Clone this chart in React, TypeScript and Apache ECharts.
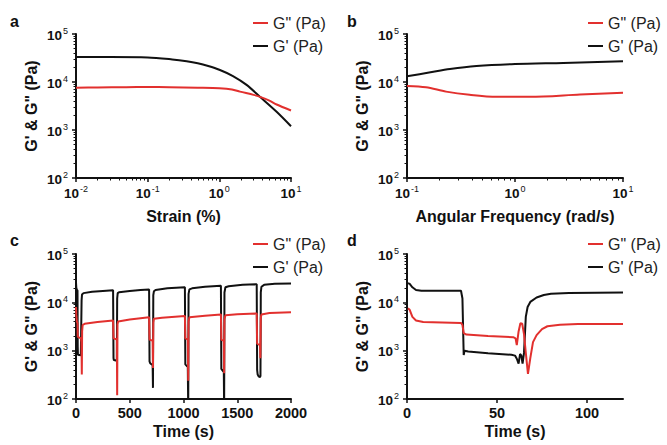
import React, { useEffect, useRef } from "react";
import * as echarts from "echarts";

const RED = "#e2302e";
const BLACK = "#111111";
const FONT = "'Liberation Sans', Arial, Helvetica, sans-serif";
const NAME_GPP = 'G" (Pa)';
const NAME_GP = "G' (Pa)";
const Y_TITLE = "G' & G\" (Pa)";

// ---- Panel a: strain sweep ----
const A_GPP: number[][] = [
  [0.01, 7600], [0.02, 7700], [0.05, 7800], [0.1, 7850], [0.2, 7800], [0.5, 7600],
  [1, 7400], [1.5, 7000], [1.94, 6300], [3, 5400], [3.7, 4900], [5, 4100],
  [6.3, 3400], [10, 2550],
];
const A_GP: number[][] = [
  [0.01, 33000], [0.03, 33000], [0.1, 32500], [0.22, 29500], [0.35, 27000],
  [0.5, 24500], [0.7, 21500], [1, 18000], [1.55, 13300], [2.4, 8700],
  [3.7, 4900], [6.3, 2400], [10, 1200],
];

// ---- Panel b: frequency sweep ----
const B_GPP: number[][] = [
  [0.1, 8300], [0.15, 7800], [0.23, 6300], [0.38, 5400], [0.68, 4900],
  [1.38, 4900], [4, 5500], [10, 6000],
];
const B_GP: number[][] = [
  [0.1, 13200], [0.16, 15700], [0.25, 18600], [0.44, 21500], [1, 23700],
  [2.8, 25000], [10, 27000],
];

// ---- Panel c: alternating strain recovery ----
const C_GP: number[][] = [
  [0, 26000], [3, 20000], [8, 18000], [14, 17500], [16, 1200], [18, 820], [45, 800], [49, 780],
  [52, 11000], [56, 14500], [70, 15500], [150, 16500], [250, 17200], [345, 17800],
  [347, 17800], [349, 700], [352, 640], [380, 620], [383, 12000], [388, 15500], [400, 16200],
  [500, 17200], [600, 18000], [680, 18500],
  [682, 18500], [684, 600], [690, 550], [713, 500], [716, 170], [719, 14000], [725, 17000],
  [740, 18000], [850, 19500], [1013, 20500],
  [1015, 20500], [1017, 520], [1040, 460], [1044, 60], [1047, 15000], [1055, 18500],
  [1080, 19500], [1200, 21000], [1348, 22000],
  [1350, 22000], [1352, 420], [1375, 360], [1378, 60], [1381, 16000], [1390, 20500],
  [1420, 21500], [1550, 23000], [1681, 23800],
  [1683, 23800], [1685, 400], [1690, 320], [1700, 290], [1712, 285], [1716, 300],
  [1719, 16000], [1725, 21000], [1750, 23000], [1850, 24200], [2000, 24500],
];
const C_GPP: number[][] = [
  [0, 8000], [3, 5500], [8, 4000], [14, 3700], [16, 2000], [20, 1900], [47, 1800], [51, 1500],
  [54, 320], [57, 2500], [62, 3400], [80, 3600], [200, 3900], [345, 4200],
  [347, 4200], [349, 1800], [380, 1700], [383, 120], [386, 3500], [392, 4000], [500, 4400],
  [680, 4900],
  [682, 4900], [684, 1700], [713, 1600], [716, 440], [719, 3800], [725, 4600], [800, 4800],
  [1013, 5200],
  [1015, 5200], [1017, 1800], [1040, 1700], [1044, 240], [1047, 4000], [1055, 4900],
  [1200, 5300], [1348, 5600],
  [1350, 5600], [1352, 1700], [1375, 1600], [1378, 340], [1381, 4500], [1390, 5400],
  [1500, 5700], [1681, 5900],
  [1683, 5900], [1685, 1400], [1712, 1300], [1715, 700], [1719, 4800], [1725, 5600],
  [1800, 6000], [2000, 6200],
];

// ---- Panel d: step strain ----
const D_GP: number[][] = [
  [0.5, 25000], [1.5, 24000], [3, 20500], [5, 18000], [8, 17400], [30, 17400], [30.8, 12000],
  [31.5, 810], [32, 1000], [34, 960], [45, 880], [58, 820], [60, 790], [61, 680], [62, 540],
  [62.8, 850], [63.5, 800], [64.2, 540], [65, 900], [66, 5000], [67, 8000], [68.5, 10200],
  [72, 12600], [76, 14200], [80, 15000], [90, 15600], [120, 16000],
];
const D_GPP: number[][] = [
  [0.5, 7500], [1.5, 7000], [3, 5000], [5, 4200], [9, 3900], [30, 3750], [30.8, 3400],
  [31.5, 2300], [33, 2150], [45, 2000], [59, 1900], [60.3, 1800], [61, 1300], [62, 2500],
  [63, 3700], [64, 3600], [65, 2200], [66, 900], [67.2, 330], [68.5, 700], [70, 1500],
  [72, 2100], [75, 2800], [78, 3200], [85, 3450], [95, 3550], [120, 3550],
];

const X_TICKS_C = [0, 500, 1000, 1500, 2000];
const X_TICKS_D = [0, 50, 100];
const MINOR_MULT = [2, 3, 4, 5, 6, 7, 8, 9];

const PANELS = [
  { letter: "a", grid: { left: 76, top: 34, width: 215, height: 144 }, xType: "log", xMin: 0.01, xMax: 10, xName: "Strain (%)", xNameGap: 30, gp: A_GP, gpp: A_GPP, smooth: 0.3 },
  { letter: "b", grid: { left: 407, top: 34, width: 216, height: 144 }, xType: "log", xMin: 0.1, xMax: 10, xName: "Angular Frequency (rad/s)", xNameGap: 30, gp: B_GP, gpp: B_GPP, smooth: 0.3 },
  { letter: "c", grid: { left: 76, top: 254, width: 215, height: 145 }, xType: "value", xMin: 0, xMax: 2000, xTicks: X_TICKS_C, xName: "Time (s)", xNameGap: 24, gp: C_GP, gpp: C_GPP, smooth: false },
  { letter: "d", grid: { left: 407, top: 254, width: 216, height: 145 }, xType: "value", xMin: 0, xMax: 120, xTicks: X_TICKS_D, xName: "Time (s)", xNameGap: 24, gp: D_GP, gpp: D_GPP, smooth: false },
];

const pow10 = (v: number) => `{b|10}{s|${Math.round(Math.log10(v))}}`;
const RICH = {
  b: { fontSize: 13.5, fontWeight: "bold", fontFamily: FONT, color: "#111", lineHeight: 16, verticalAlign: "bottom" },
  s: { fontSize: 9, fontFamily: FONT, color: "#111", lineHeight: 10, verticalAlign: "top", padding: [0, 0, 0, 1] },
};

function minorLogs(lo: number, hi: number) {
  const out: number[] = [];
  for (let d = lo; d < hi; d++) for (const m of MINOR_MULT) out.push(d + Math.log10(m));
  return out;
}

export default function App() {
  const ref = useRef<HTMLDivElement>(null);
  useEffect(() => {
    if (!ref.current) return;
    const chart = echarts.init(ref.current, undefined, { renderer: "svg" });
    const grids: any[] = [];
    const xAxes: any[] = [];
    const yAxes: any[] = [];
    const series: any[] = [];
    const legends: any[] = [];
    const graphics: any[] = [];
    const axisLineStyle = { color: "#111", width: 2 };
    PANELS.forEach((p, i) => {
      grids.push({ ...p.grid, containLabel: false });
      const xi = xAxes.length;
      const yi = yAxes.length;
      xAxes.push({
        type: p.xType,
        gridIndex: i,
        position: "bottom",
        min: p.xMin,
        max: p.xMax,
        name: p.xName,
        nameLocation: "middle",
        nameGap: p.xNameGap,
        nameTextStyle: { fontSize: 16, fontWeight: "bold", fontFamily: FONT, color: "#111" },
        axisLine: { show: true, onZero: false, lineStyle: axisLineStyle },
        axisTick: p.xType === "log"
          ? { show: true, length: 4, lineStyle: { color: "#111", width: 1.5 } }
          : { show: true, length: 4, customValues: p.xTicks, lineStyle: { color: "#111", width: 1.5 } },
        axisLabel: p.xType === "log"
          ? { formatter: pow10, rich: RICH, margin: 6, showMinLabel: true, showMaxLabel: true }
          : { customValues: p.xTicks, formatter: (v: number) => String(v), fontSize: 14.5, fontWeight: "bold", fontFamily: FONT, color: "#111", margin: 6 },
        splitLine: { show: false },
      });
      yAxes.push({
        type: "log",
        logBase: 10,
        gridIndex: i,
        position: "left",
        min: 100,
        max: 100000,
        name: Y_TITLE,
        nameLocation: "middle",
        nameGap: 37,
        nameTextStyle: { fontSize: 16, fontWeight: "bold", fontFamily: FONT, color: "#111" },
        axisLine: { show: true, onZero: false, lineStyle: axisLineStyle },
        axisTick: { show: true, length: 4, lineStyle: { color: "#111", width: 1.5 } },
        axisLabel: { formatter: pow10, rich: RICH, margin: 8, showMinLabel: true, showMaxLabel: true },
        splitLine: { show: false },
      });
      // minor log ticks (in log10 space)
      yAxes.push({
        type: "value",
        gridIndex: i,
        position: "left",
        min: 2,
        max: 5,
        axisLine: { show: false, onZero: false },
        axisLabel: { show: false },
        splitLine: { show: false },
        axisTick: { show: true, length: 2.5, customValues: minorLogs(2, 5), lineStyle: { color: "#111", width: 1 } },
      });
      if (p.xType === "log") {
        const lo = Math.round(Math.log10(p.xMin));
        const hi = Math.round(Math.log10(p.xMax));
        xAxes.push({
          type: "value",
          gridIndex: i,
          position: "bottom",
          min: lo,
          max: hi,
          axisLine: { show: false, onZero: false },
          axisLabel: { show: false },
          splitLine: { show: false },
          axisTick: { show: true, length: 2.5, customValues: minorLogs(lo, hi), lineStyle: { color: "#111", width: 1 } },
        });
      }
      series.push({
        name: NAME_GP, type: "line", xAxisIndex: xi, yAxisIndex: yi, data: p.gp,
        showSymbol: false, symbol: "none", smooth: p.smooth, clip: true,
        lineStyle: { color: BLACK, width: 2 }, itemStyle: { color: BLACK },
      });
      series.push({
        name: NAME_GPP, type: "line", xAxisIndex: xi, yAxisIndex: yi, data: p.gpp,
        showSymbol: false, symbol: "none", smooth: p.smooth, clip: true,
        lineStyle: { color: RED, width: 2 }, itemStyle: { color: RED },
      });
      const legLeft = i % 2 === 0 ? 253 : 588;
      const legTop = i < 2 ? 15 : 236;
      legends.push({
        orient: "vertical", left: legLeft, top: legTop, padding: 0, itemGap: 7,
        itemWidth: 15, itemHeight: 2, icon: "rect", selectedMode: false,
        textStyle: { fontSize: 16, fontFamily: FONT, color: "#222", lineHeight: 16 },
        data: [{ name: NAME_GPP }, { name: NAME_GP }],
      });
      graphics.push({
        type: "text",
        left: i % 2 === 0 ? 10 : 347,
        top: i < 2 ? 13 : 232,
        style: { text: p.letter, fontSize: 16, fontWeight: "bold", fontFamily: FONT, fill: "#111" },
      });
    });
    chart.setOption({
      animation: false,
      backgroundColor: "#ffffff",
      grid: grids,
      xAxis: xAxes,
      yAxis: yAxes,
      series,
      legend: legends,
      graphic: graphics,
    });
    return () => chart.dispose();
  }, []);
  return (
    <div
      ref={ref}
      style={{ position: "fixed", left: 0, top: 0, width: 667, height: 445, background: "#fff" }}
    />
  );
}
